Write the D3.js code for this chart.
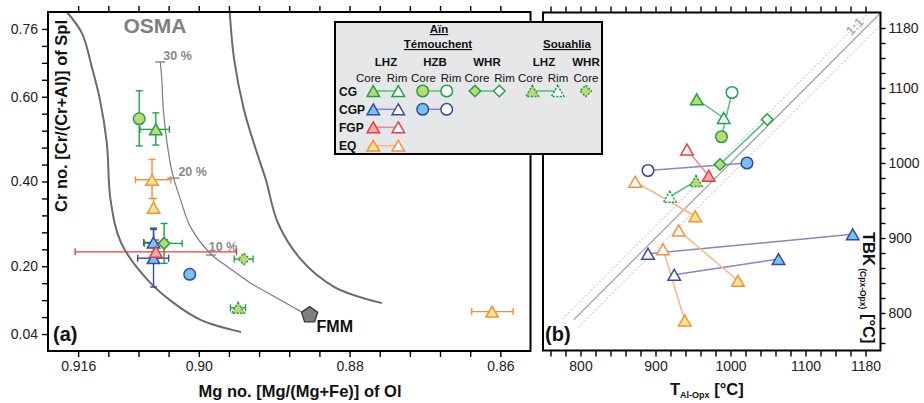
<!DOCTYPE html>
<html><head><meta charset="utf-8">
<script src="https://cdn.jsdelivr.net/npm/d3@7"></script>
<style>
body{margin:0;background:#fff;}
svg{display:block;font-family:"Liberation Sans",Arial,Helvetica,sans-serif;}
</style></head><body>
<svg id="c" width="924" height="403"></svg>
<script>
// ---------------- DATA ----------------
// Panel (a): Mg no. of olivine vs Cr no. of spinel
const ptGroup = ["CG","CG","EQ","EQ","CGP","CGP","CG","FGP","CGP","CG","CG","EQ"];
const ptLitho = ["HZB","LHZ","LHZ","LHZ","LHZ","LHZ","WHR","LHZ","HZB","WHR_S","LHZ_S","LHZ"];
const ptMg    = [0.9079,0.9057,0.9062,0.9060,0.9060,0.9060,0.9046,0.9057,0.9012,0.8940,0.8948,0.8611];
const ptCr    = [0.548,0.523,0.404,0.338,0.256,0.219,0.254,0.234,0.181,0.217,0.102,0.093];
const ptMgMax = [null,0.9078,0.9084,null,0.9073,0.9081,0.9072,0.9164,null,0.8953,0.8958,0.8638];
const ptMgMin = [null,0.9039,0.9037,null,0.9042,0.9040,0.9022,0.8950,null,0.8928,0.8938,0.8583];
const ptCrMin = [0.484,0.486,0.360,0.338,0.221,0.151,0.207,0.207,null,null,null,null];
const ptCrMax = [0.614,0.562,0.452,0.360,0.290,0.287,0.301,0.262,null,null,null,null];

// OSMA boundaries and melting trend from FMM
const osmaLeftMg  = [0.9175,0.9155,0.9142,0.9131,0.9122,0.9117,0.9103,0.9068,0.9033,0.8997,0.8944];
const osmaLeftCr  = [0.800,0.750,0.671,0.592,0.491,0.356,0.255,0.168,0.113,0.073,0.045];
const osmaRightMg = [0.8959,0.8953,0.8940,0.8924,0.8911,0.8895,0.8864,0.8820,0.8757];
const osmaRightCr = [0.800,0.687,0.569,0.474,0.404,0.302,0.215,0.151,0.113];
const meltMg = [0.8853,0.8864,0.8891,0.8931,0.8962,0.8984,0.9011,0.9024,0.9035,0.9042,0.9047,0.9049,0.9051];
const meltCr = [0.085,0.0927,0.120,0.160,0.199,0.229,0.293,0.356,0.419,0.490,0.569,0.640,0.682];
const meltPct   = ["30 %","20 %","10 %"];
const meltTickMg = [0.9051,0.9035,0.8984];
const meltTickCr = [0.682,0.408,0.2265];
const fmmMg = 0.8853, fmmCr = 0.085;

// Panel (b): T Al-Opx vs TBK, core-rim pairs
const pairGroup = ["CG","CG","CG","CG","CGP","CGP","CGP","FGP","EQ","EQ","EQ"];
const pairLitho = ["LHZ","HZB","WHR","LHZ_S","HZB","LHZ","LHZ","LHZ","LHZ","LHZ","LHZ"];
const coreTAl = [955,988,986,954,1022,1163,1064,971,953,1010,939];
const coreTBK = [1085,1035,998,976,1000,905,872,983,929,843,790];
const rimTAl  = [991,1002,1049,919,890,890,925,942,873,931,910];
const rimTBK  = [1060,1094,1058,955,990,879,851,1018,975,910,885];

// tick labels
const mgTickVals = [0.916,0.90,0.88,0.86];
const mgTickLabels = ["0.916","0.90","0.88","0.86"];
const crTickVals = [0.76,0.60,0.40,0.20,0.04];
const crTickLabels = ["0.76","0.60","0.40","0.20","0.04"];
const tTickVals = [800,900,1000,1100,1180];
const tTickLabels = ["800","900","1000","1100","1180"];

// legend
const legRows = ["CG","CGP","FGP","EQ"];
const legRowLithos = [["LHZ","HZB","WHR","LHZ_S","WHR_S"],["LHZ","HZB"],["LHZ"],["LHZ"]];

// ---------------- STYLE ----------------
const colors = {
  CG:  {stroke:"#1ea24b", fill:"#c0d873", link:"#55bf82"},
  CGP: {stroke:"#3c47a2", fill:"#72c5f0", link:"#8787c4"},
  FGP: {stroke:"#ec3a45", fill:"#f5aaa2", link:"#f08a8e"},
  EQ:  {stroke:"#f68f3b", fill:"#fde68e", link:"#f8b784"}
};
const svg = d3.select("#c");

function triPath(s){const h=s*Math.sqrt(3)/2;return `M0,${-h/2}L${s/2},${h/2}L${-s/2},${h/2}Z`;}
function diaPath(r){return `M0,${-r}L${r},0L0,${r}L${-r},0Z`;}
function circPath(r){return `M${r},0A${r},${r} 0 1,1 ${-r},0A${r},${r} 0 1,1 ${r},0Z`;}
function marker(g,grp,litho,core,x,y){
  const c=colors[grp];
  let d;
  if(litho.startsWith("LHZ")) d=triPath(12.5);
  else if(litho==="HZB") d=circPath(5.8);
  else d=diaPath(5.7);
  g.append("path").attr("d",d).attr("transform",`translate(${x},${y})`)
    .attr("fill",core?c.fill:"#fff").attr("stroke",c.stroke).attr("stroke-width",1.5)
    .attr("stroke-dasharray",litho.endsWith("_S")?"2.2,1.4":null);
}
function labelOf(vals,labels,d){
  const i=vals.findIndex(v=>Math.abs(v-d)<1e-6);
  return i<0?"":labels[i];
}
function styleAxis(g){
  g.select(".domain").remove();
  g.selectAll(".tick line").attr("stroke","#000").attr("stroke-width",1.4);
  g.selectAll(".tick text").attr("fill","#222").style("font-size","14px")
    .style("font-family",'"Liberation Sans",Arial,sans-serif');
}

// ---------------- PANEL A ----------------
const xL = d3.scaleLinear().domain([0.92,0.856]).range([48,530.5]);
const yL = d3.scaleLinear().domain([0,0.8]).range([351,12]);
const gA = svg.append("g");

const mgTicks = d3.range(0,15).map(i=>+(0.916-0.004*i).toFixed(3));
const crTicks = d3.range(1,20).map(i=>+(0.04*i).toFixed(2));
gA.append("g").attr("transform","translate(0,351)")
  .call(d3.axisBottom(xL).tickValues(mgTicks).tickSize(6).tickPadding(4)
    .tickFormat(d=>labelOf(mgTickVals,mgTickLabels,d))).call(styleAxis);
gA.append("g").attr("transform","translate(0,12)")
  .call(d3.axisTop(xL).tickValues(mgTicks).tickSize(6).tickFormat("")).call(styleAxis);
gA.append("g").attr("transform","translate(48,0)")
  .call(d3.axisLeft(yL).tickValues(crTicks).tickSize(6).tickPadding(4)
    .tickFormat(d=>labelOf(crTickVals,crTickLabels,d))).call(styleAxis);

// OSMA curves
const lineL = d3.line().x(d=>xL(d[0])).y(d=>yL(d[1])).curve(d3.curveCatmullRom);
gA.append("path").attr("d",lineL(d3.zip(osmaLeftMg,osmaLeftCr)))
  .attr("fill","none").attr("stroke","#6b6b6b").attr("stroke-width",2);
gA.append("path").attr("d",lineL(d3.zip(osmaRightMg,osmaRightCr)))
  .attr("fill","none").attr("stroke","#6b6b6b").attr("stroke-width",2);
gA.append("path").attr("d",lineL(d3.zip(meltMg,meltCr)))
  .attr("fill","none").attr("stroke","#7d7d7d").attr("stroke-width",1.2);
meltPct.forEach((t,i)=>{
  const x=xL(meltTickMg[i]), y=yL(meltTickCr[i]);
  gA.append("line").attr("x1",x-5).attr("x2",x+(i===1?7:5)).attr("y1",y).attr("y2",y)
    .attr("stroke","#7d7d7d").attr("stroke-width",1.3);
  const off=[[3,-2],[6,-2],[-2,-4]][i];
  gA.append("text").attr("x",x+off[0]).attr("y",y+off[1]).text(t)
    .attr("fill","#8a8a8a").style("font-size","12.5px").style("font-weight","bold");
});
gA.append("text").attr("x",155).attr("y",33).attr("text-anchor","middle").text("OSMA")
  .attr("fill","#7f7f7f").style("font-size","21px").style("font-weight","bold");

// error bars
ptMg.forEach((m,i)=>{
  const c=colors[ptGroup[i]].stroke, x=xL(m), y=yL(ptCr[i]);
  const eb=gA.append("g").attr("stroke",c).attr("stroke-width",1.4);
  if(ptMgMin[i]!==null){
    const x1=xL(ptMgMax[i]), x2=xL(ptMgMin[i]);
    eb.append("line").attr("x1",x1).attr("x2",x2).attr("y1",y).attr("y2",y);
    [x1,x2].forEach(xx=>eb.append("line").attr("x1",xx).attr("x2",xx).attr("y1",y-3.5).attr("y2",y+3.5));
  }
  if(ptCrMin[i]!==null){
    const y1=yL(ptCrMax[i]), y2=yL(ptCrMin[i]);
    eb.append("line").attr("x1",x).attr("x2",x).attr("y1",y1).attr("y2",y2);
    [y1,y2].forEach(yy=>eb.append("line").attr("x1",x-3.5).attr("x2",x+3.5).attr("y1",yy).attr("y2",yy));
  }
});
// FMM
{
  const x=xL(fmmMg), y=yL(fmmCr), r=8.5;
  const pts=d3.range(5).map(k=>{const a=-Math.PI/2+k*2*Math.PI/5;return [x+r*Math.cos(a),y+r*Math.sin(a)];});
  gA.append("polygon").attr("points",pts.map(p=>p.join(",")).join(" "))
    .attr("fill","#7f7f7f").attr("stroke","#333").attr("stroke-width",1.3);
  gA.append("text").attr("x",x+7).attr("y",y+17).text("FMM")
    .attr("fill","#111").style("font-size","16px").style("font-weight","bold");
}
ptMg.forEach((m,i)=>marker(gA,ptGroup[i],ptLitho[i],true,xL(m),yL(ptCr[i])));

gA.append("rect").attr("x",48).attr("y",12).attr("width",530.5-48).attr("height",351-12)
  .attr("fill","none").attr("stroke","#000").attr("stroke-width",2);
gA.append("text").attr("transform","translate(66.5,116) rotate(-90)").attr("text-anchor","middle")
  .text("Cr no. [Cr/(Cr+Al)] of Spl").attr("fill","#111").style("font-size","16.5px").style("font-weight","bold");
gA.append("text").attr("x",300).attr("y",397).attr("text-anchor","middle")
  .text("Mg no. [Mg/(Mg+Fe)] of Ol").attr("fill","#111").style("font-size","16.5px").style("font-weight","bold");
gA.append("text").attr("x",53).attr("y",341).text("(a)")
  .attr("fill","#111").style("font-size","20px").style("font-weight","bold");

// ---------------- PANEL B ----------------
const xR = d3.scaleLinear().domain([750,1200]).range([543,880.5]);
const yR = d3.scaleLinear().domain([750,1200]).range([350.5,13]);
const gB = svg.append("g");
const tTicks = d3.range(760,1181,20);
gB.append("g").attr("transform","translate(0,350.5)")
  .call(d3.axisBottom(xR).tickValues(tTicks).tickSize(6).tickPadding(5)
    .tickFormat(d=>labelOf(tTickVals,tTickLabels,d))).call(styleAxis);
gB.append("g").attr("transform","translate(0,12.5)")
  .call(d3.axisTop(xR).tickValues(tTicks).tickSize(6).tickFormat("")).call(styleAxis);
gB.append("g").attr("transform","translate(880.5,0)")
  .call(d3.axisRight(yR).tickValues(tTicks).tickSize(5).tickPadding(3)
    .tickFormat(d=>labelOf(tTickVals,tTickLabels,d))).call(styleAxis);

// 1:1 line and bounds
const oneLines = [
  {x0:776,y0:792,x1:1184,y1:1200,dash:"2,2",col:"#b5b5b5",w:1},
  {x0:791,y0:791,x1:1200,y1:1200,dash:null,col:"#a6a6a6",w:1.3},
  {x0:797,y0:781,x1:1200,y1:1184,dash:"2,2",col:"#b5b5b5",w:1}
];
oneLines.forEach(l=>gB.append("line").attr("x1",xR(l.x0)).attr("y1",yR(l.y0))
  .attr("x2",xR(l.x1)).attr("y2",yR(l.y1)).attr("stroke",l.col).attr("stroke-width",l.w)
  .attr("stroke-dasharray",l.dash));
gB.append("text").attr("transform",`translate(${xR(1170)},${yR(1178)}) rotate(-45)`)
  .attr("text-anchor","middle").text("1:1").attr("fill","#b0b0b0")
  .style("font-size","13px").style("font-weight","bold");

pairGroup.forEach((g,i)=>{
  gB.append("line").attr("x1",xR(coreTAl[i])).attr("y1",yR(coreTBK[i]))
    .attr("x2",xR(rimTAl[i])).attr("y2",yR(rimTBK[i]))
    .attr("stroke",colors[g].link).attr("stroke-width",1.5);
});
pairGroup.forEach((g,i)=>{
  marker(gB,g,pairLitho[i],false,xR(rimTAl[i]),yR(rimTBK[i]));
  marker(gB,g,pairLitho[i],true,xR(coreTAl[i]),yR(coreTBK[i]));
});

gB.append("rect").attr("x",543).attr("y",12.5).attr("width",880.5-543).attr("height",350.5-12.5)
  .attr("fill","none").attr("stroke","#000").attr("stroke-width",2);
gB.append("text").attr("x",545).attr("y",341).text("(b)")
  .attr("fill","#111").style("font-size","20px").style("font-weight","bold");
{
  const t=gB.append("text").attr("x",670).attr("y",395).attr("fill","#111").style("font-weight","bold");
  t.append("tspan").text("T").style("font-size","16.5px");
  t.append("tspan").text("Al-Opx").style("font-size","9px").attr("dy",3);
  t.append("tspan").text(" [°C]").style("font-size","16.5px").attr("dy",-3);
  const t2=gB.append("text").attr("transform","translate(863,232) rotate(90)").attr("fill","#111").style("font-weight","bold");
  t2.append("tspan").text("TBK").style("font-size","16.5px");
  t2.append("tspan").text(" (Cpx-Opx)").style("font-size","8.5px").attr("dy",3);
  t2.append("tspan").text(" [°C]").style("font-size","16.5px").attr("dy",-3);
}

// ---------------- LEGEND ----------------
const gLeg = svg.append("g");
gLeg.append("rect").attr("x",335).attr("y",22).attr("width",267).attr("height",132)
  .attr("fill","#e6e7e8").attr("stroke","#000").attr("stroke-width",2);
const hdr=(x,y,t,ul)=>gLeg.append("text").attr("x",x).attr("y",y).attr("text-anchor","middle").text(t)
  .attr("fill","#111").style("font-size","11.5px").style("font-weight","bold")
  .style("text-decoration",ul?"underline":null);
hdr(439,33,"Aïn",true);
hdr(438,48,"Témouchent",true);
hdr(567,48,"Souahlia",true);
[[386,"LHZ"],[435,"HZB"],[487,"WHR"],[544,"LHZ"],[586,"WHR"]].forEach(d=>hdr(d[0],65.5,d[1],false));
[[368.5,"Core"],[397,"Rim"],[423.5,"Core"],[451,"Rim"],[477,"Core"],[504.5,"Rim"],[530.5,"Core"],[558,"Rim"],[586,"Core"]]
  .forEach(d=>gLeg.append("text").attr("x",d[0]).attr("y",81.5).attr("text-anchor","middle").text(d[1])
    .attr("fill","#111").style("font-size","11.5px"));
const legColX = {LHZ:[373.3,398.3],HZB:[422.7,446.7],WHR:[475,499.3],LHZ_S:[532.3,557.7],WHR_S:[585.7,null]};
const legRowY = [91,109.3,127.3,145.7];
legRows.forEach((grp,r)=>{
  const y=legRowY[r];
  gLeg.append("text").attr("x",339).attr("y",y+4.5).text(grp).attr("fill","#111")
    .style("font-size","12px").style("font-weight","bold");
  legRowLithos[r].forEach(lit=>{
    const [xc,xr]=legColX[lit];
    if(xr!==null) gLeg.append("line").attr("x1",xc).attr("x2",xr).attr("y1",y).attr("y2",y)
      .attr("stroke",colors[grp].link).attr("stroke-width",1.5);
    marker(gLeg,grp,lit,true,xc,y);
    if(xr!==null) marker(gLeg,grp,lit,false,xr,y);
  });
});
</script>
</body></html>
